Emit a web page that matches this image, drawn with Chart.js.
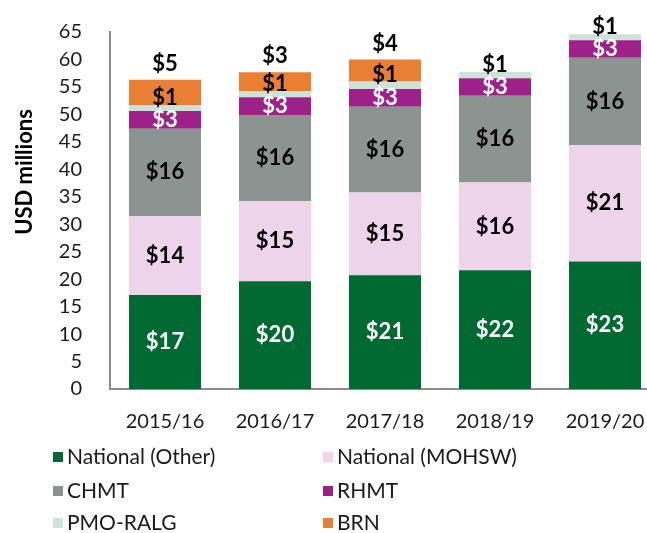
<!DOCTYPE html>
<html>
<head>
<meta charset="utf-8">
<title>Funding by source</title>
<script src="https://cdn.jsdelivr.net/npm/chart.js@4.4.1/dist/chart.umd.min.js"></script>
<style>
  body { margin: 0; background: #fff; }
  #wrap { width: 647px; height: 533px; overflow: hidden; }
</style>
</head>
<body>
<div id="wrap"><canvas id="myChart" width="660" height="533"></canvas></div>
<script>
// USD millions per fiscal year
var years = ['2015/16', '2016/17', '2017/18', '2018/19', '2019/20'];
var nationalOther = [17.1, 19.6, 20.7, 21.6, 23.2];
var nationalMohsw = [14.4, 14.6, 15.1, 16.0, 21.2];
var chmt = [15.9, 15.7, 15.6, 15.8, 15.9];
var rhmt = [3.2, 3.2, 3.2, 3.2, 3.2];
var pmoRalg = [1.1, 1.1, 1.4, 1.1, 1.1];
var brn = [4.6, 3.45, 4.0, 0, 0];
var yMax = 65;
var yStep = 5;

Chart.defaults.font.family = 'Lato';
Chart.defaults.color = '#1a1a1a';

// labels on each segment; PMO-RALG sits just above its segment, BRN above the bar
var segmentLabels = {
  id: 'segmentLabels',
  afterDatasetsDraw: function(chart) {
    var ctx = chart.ctx;
    ctx.save();
    ctx.font = 'bold 22px Lato';
    ctx.textAlign = 'center';
    ctx.textBaseline = 'middle';
    chart.data.datasets.forEach(function(ds, i) {
      var meta = chart.getDatasetMeta(i);
      meta.data.forEach(function(bar, j) {
        var v = ds.data[j];
        if (!v) return;
        var y;
        if (ds.label === 'PMO-RALG') y = bar.y - 7;
        else if (ds.label === 'BRN') y = bar.y - 16;
        else y = (bar.y + bar.base) / 2;
        ctx.fillStyle = ds.labelColor;
        ctx.fillText('$' + Math.round(v), bar.x, y);
      });
    });
    ctx.restore();
  }
};

// y title + two-column legend underneath
var extras = {
  id: 'extras',
  afterDraw: function(chart) {
    var ctx = chart.ctx;
    ctx.save();
    ctx.translate(25, 172);
    ctx.rotate(-Math.PI / 2);
    ctx.font = 'bold 22px Lato';
    ctx.fillStyle = '#000';
    ctx.textAlign = 'center';
    ctx.textBaseline = 'middle';
    ctx.fillText('USD millions', 0, 0);
    ctx.restore();

    var colX = [53, 323];
    var rowY = [457, 491, 523];
    ctx.save();
    ctx.font = '21px Lato';
    ctx.textBaseline = 'middle';
    ctx.textAlign = 'left';
    chart.data.datasets.forEach(function(ds, i) {
      var x = colX[i % 2];
      var y = rowY[Math.floor(i / 2)];
      ctx.fillStyle = ds.backgroundColor;
      ctx.fillRect(x, y - 5, 10, 10);
      ctx.fillStyle = '#1a1a1a';
      ctx.fillText(ds.label, x + 14, y);
    });
    ctx.restore();
  }
};

var ctx = document.getElementById('myChart').getContext('2d');
var myChart = new Chart(ctx, {
  type: 'bar',
  data: {
    labels: years,
    datasets: [
      { label: 'National (Other)', data: nationalOther, backgroundColor: '#006A32', labelColor: '#fff' },
      { label: 'National (MOHSW)', data: nationalMohsw, backgroundColor: '#EDD4EA', labelColor: '#000' },
      { label: 'CHMT', data: chmt, backgroundColor: '#8B9491', labelColor: '#000' },
      { label: 'RHMT', data: rhmt, backgroundColor: '#9E2189', labelColor: '#fff' },
      { label: 'PMO-RALG', data: pmoRalg, backgroundColor: '#CDE3D7', labelColor: '#000' },
      { label: 'BRN', data: brn, backgroundColor: '#E97F32', labelColor: '#000' }
    ]
  },
  options: {
    responsive: false,
    animation: false,
    barPercentage: 0.655,
    categoryPercentage: 1,
    layout: { padding: { top: 28, right: 0, left: 0, bottom: 0 } },
    plugins: {
      legend: { display: false },
      tooltip: { enabled: false }
    },
    scales: {
      x: {
        stacked: true,
        grid: { display: false },
        border: { display: true, color: '#8C8C8C', width: 2 },
        ticks: { font: { size: 20 }, padding: 13, color: '#1a1a1a' },
        afterFit: function(scale) { scale.height = 144; }
      },
      y: {
        stacked: true,
        min: 0,
        max: yMax,
        grid: { display: false },
        border: { display: true, color: '#8C8C8C', width: 2 },
        ticks: { stepSize: yStep, font: { size: 20 }, padding: 20, color: '#1a1a1a' },
        afterFit: function(scale) { scale.width = 110; }
      }
    }
  },
  plugins: [segmentLabels, extras]
});
</script>
</body>
</html>
